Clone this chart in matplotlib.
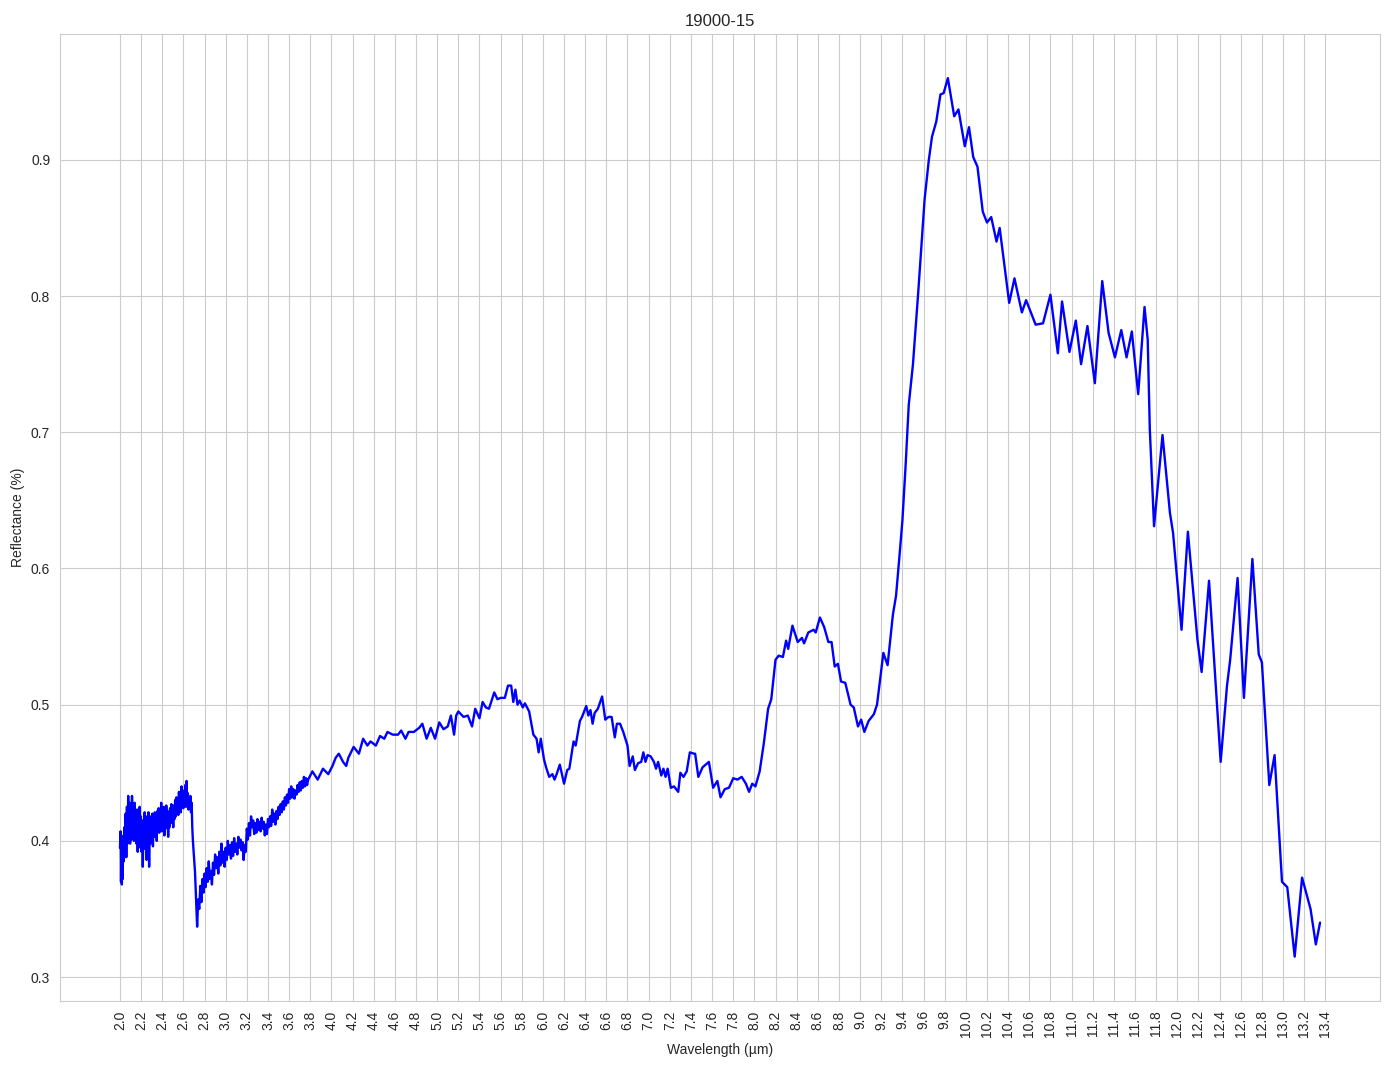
import matplotlib
matplotlib.use('Agg')
import matplotlib.pyplot as plt
import numpy as np
import seaborn as sns

# spectrum (wavelength in um, reflectance)
# noisy start, 2.0 - 2.7 um
wl_start = [2.000, 2.006, 2.010, 2.014, 2.018, 2.022, 2.026, 2.030, 2.036, 2.042, 2.048, 2.054,
            2.060, 2.066, 2.072, 2.078, 2.084, 2.090, 2.096, 2.102, 2.108, 2.114, 2.120, 2.126,
            2.132, 2.138, 2.144, 2.150, 2.156, 2.162, 2.168, 2.174, 2.180, 2.186, 2.192, 2.198,
            2.204, 2.210, 2.216, 2.222, 2.228, 2.234, 2.240, 2.246, 2.252, 2.258, 2.264, 2.270,
            2.276, 2.282, 2.288, 2.294, 2.300, 2.306, 2.312, 2.318, 2.324, 2.330, 2.336, 2.342,
            2.348, 2.354, 2.360, 2.366, 2.372, 2.378, 2.384, 2.390, 2.396, 2.402, 2.408, 2.414,
            2.420, 2.426, 2.432, 2.438, 2.444, 2.450, 2.456, 2.462, 2.468, 2.474, 2.480, 2.486,
            2.492, 2.498, 2.504, 2.510, 2.516, 2.522, 2.528, 2.534, 2.540, 2.546, 2.552, 2.558,
            2.564, 2.570, 2.576, 2.582, 2.588, 2.594, 2.600, 2.606, 2.612, 2.618, 2.624, 2.630,
            2.636, 2.642, 2.648, 2.654, 2.660, 2.666, 2.672, 2.678, 2.684, 2.690, 2.710, 2.730]
r_start = [0.395, 0.407, 0.370, 0.404, 0.368, 0.399, 0.372, 0.401, 0.385, 0.410, 0.395, 0.420,
           0.388, 0.425, 0.398, 0.433, 0.402, 0.428, 0.398, 0.420, 0.401, 0.433, 0.405, 0.426,
           0.400, 0.428, 0.403, 0.420, 0.398, 0.423, 0.392, 0.418, 0.400, 0.425, 0.395, 0.418,
           0.392, 0.415, 0.381, 0.410, 0.397, 0.421, 0.394, 0.418, 0.386, 0.412, 0.401, 0.421,
           0.381, 0.414, 0.398, 0.418, 0.402, 0.420, 0.396, 0.417, 0.403, 0.421, 0.405, 0.419,
           0.400, 0.422, 0.408, 0.424, 0.406, 0.421, 0.410, 0.428, 0.407, 0.423, 0.411, 0.425,
           0.404, 0.420, 0.409, 0.426, 0.412, 0.422, 0.403, 0.418, 0.410, 0.424, 0.413, 0.427,
           0.415, 0.421, 0.410, 0.426, 0.416, 0.430, 0.418, 0.432, 0.420, 0.428, 0.419, 0.436,
           0.422, 0.431, 0.421, 0.440, 0.425, 0.433, 0.424, 0.437, 0.427, 0.441, 0.425, 0.444,
           0.426, 0.435, 0.423, 0.432, 0.425, 0.433, 0.421, 0.428, 0.410, 0.400, 0.377, 0.337]

# rising noisy part, 2.74 - 3.77 um
wl_rise = [2.74, 2.75, 2.76, 2.77, 2.78, 2.79, 2.80, 2.81, 2.82, 2.83, 2.84, 2.85,
           2.86, 2.87, 2.88, 2.89, 2.90, 2.91, 2.92, 2.93, 2.94, 2.95, 2.96, 2.97,
           2.98, 2.99, 3.00, 3.01, 3.02, 3.03, 3.04, 3.05, 3.06, 3.07, 3.08, 3.09,
           3.10, 3.11, 3.12, 3.13, 3.14, 3.15, 3.16, 3.17, 3.18, 3.19, 3.20, 3.21,
           3.22, 3.23, 3.24, 3.25, 3.26, 3.27, 3.28, 3.29, 3.30, 3.31, 3.32, 3.33,
           3.34, 3.35, 3.36, 3.37, 3.38, 3.39, 3.40, 3.41, 3.42, 3.43, 3.44, 3.45,
           3.46, 3.47, 3.48, 3.49, 3.50, 3.51, 3.52, 3.53, 3.54, 3.55, 3.56, 3.57,
           3.58, 3.59, 3.60, 3.61, 3.62, 3.63, 3.64, 3.65, 3.66, 3.67, 3.68, 3.69,
           3.70, 3.71, 3.72, 3.73, 3.74, 3.75, 3.76, 3.77]
r_rise = [0.357, 0.350, 0.367, 0.355, 0.372, 0.362, 0.376, 0.366, 0.380, 0.370, 0.385, 0.372,
          0.378, 0.368, 0.384, 0.375, 0.390, 0.380, 0.388, 0.376, 0.392, 0.382, 0.398, 0.384,
          0.392, 0.381, 0.395, 0.386, 0.400, 0.390, 0.397, 0.387, 0.399, 0.389, 0.402, 0.392,
          0.398, 0.390, 0.403, 0.395, 0.401, 0.393, 0.399, 0.386, 0.397, 0.392, 0.409, 0.401,
          0.413, 0.404, 0.418, 0.410, 0.415, 0.405, 0.413, 0.406, 0.416, 0.408, 0.414, 0.407,
          0.417, 0.409, 0.414, 0.404, 0.412, 0.405, 0.416, 0.410, 0.418, 0.411, 0.423, 0.414,
          0.420, 0.412, 0.422, 0.416, 0.425, 0.419, 0.427, 0.421, 0.429, 0.423, 0.432, 0.426,
          0.434, 0.428, 0.438, 0.431, 0.440, 0.432, 0.438, 0.431, 0.437, 0.434, 0.441, 0.436,
          0.443, 0.437, 0.444, 0.439, 0.447, 0.440, 0.446, 0.441]

# plateau and dip, 3.78 - 8.01 um
wl_mid = [3.78, 3.82, 3.87, 3.92, 3.97, 4.01, 4.04, 4.07, 4.11, 4.14, 4.16, 4.21,
          4.26, 4.30, 4.34, 4.37, 4.42, 4.46, 4.50, 4.53, 4.58, 4.63, 4.66, 4.70,
          4.73, 4.78, 4.83, 4.86, 4.90, 4.94, 4.98, 5.02, 5.06, 5.10, 5.13, 5.16,
          5.18, 5.20, 5.25, 5.29, 5.33, 5.36, 5.40, 5.43, 5.46, 5.49, 5.54, 5.57,
          5.60, 5.64, 5.67, 5.70, 5.72, 5.74, 5.76, 5.78, 5.81, 5.83, 5.87, 5.91,
          5.94, 5.96, 5.98, 6.01, 6.03, 6.06, 6.09, 6.11, 6.13, 6.16, 6.20, 6.23,
          6.25, 6.29, 6.31, 6.35, 6.37, 6.41, 6.43, 6.45, 6.47, 6.49, 6.52, 6.56,
          6.59, 6.62, 6.65, 6.68, 6.70, 6.73, 6.76, 6.80, 6.82, 6.85, 6.87, 6.90,
          6.93, 6.95, 6.97, 6.99, 7.02, 7.05, 7.07, 7.09, 7.12, 7.14, 7.16, 7.18,
          7.21, 7.24, 7.28, 7.30, 7.33, 7.36, 7.39, 7.43, 7.44, 7.47, 7.51, 7.57,
          7.61, 7.65, 7.68, 7.72, 7.76, 7.80, 7.84, 7.88, 7.92, 7.95, 7.98, 8.01]
r_mid = [0.445, 0.451, 0.445, 0.453, 0.449, 0.455, 0.461, 0.464, 0.458, 0.455, 0.461, 0.469,
         0.464, 0.475, 0.470, 0.473, 0.470, 0.477, 0.475, 0.480, 0.478, 0.478, 0.481, 0.475,
         0.480, 0.480, 0.483, 0.486, 0.475, 0.483, 0.475, 0.487, 0.482, 0.484, 0.492, 0.478,
         0.492, 0.495, 0.491, 0.492, 0.484, 0.497, 0.490, 0.502, 0.498, 0.497, 0.509, 0.504,
         0.505, 0.505, 0.514, 0.514, 0.502, 0.511, 0.500, 0.503, 0.498, 0.501, 0.495, 0.478,
         0.475, 0.465, 0.475, 0.460, 0.454, 0.447, 0.449, 0.445, 0.449, 0.456, 0.442, 0.452,
         0.453, 0.473, 0.470, 0.488, 0.491, 0.499, 0.492, 0.496, 0.486, 0.494, 0.497, 0.506,
         0.489, 0.491, 0.491, 0.476, 0.486, 0.486, 0.480, 0.470, 0.455, 0.462, 0.452, 0.457,
         0.458, 0.465, 0.458, 0.463, 0.462, 0.458, 0.453, 0.458, 0.448, 0.453, 0.447, 0.453,
         0.439, 0.440, 0.436, 0.450, 0.447, 0.451, 0.465, 0.464, 0.464, 0.447, 0.454, 0.458,
         0.439, 0.444, 0.432, 0.438, 0.439, 0.446, 0.445, 0.447, 0.442, 0.436, 0.442, 0.440]

# main band and fall-off, 8.05 - 13.35 um
wl_peak = [8.05, 8.09, 8.13, 8.16, 8.20, 8.23, 8.27, 8.30, 8.32, 8.36, 8.41, 8.45,
           8.47, 8.51, 8.56, 8.58, 8.62, 8.66, 8.70, 8.73, 8.76, 8.79, 8.82, 8.86,
           8.91, 8.94, 8.98, 9.01, 9.04, 9.08, 9.13, 9.16, 9.22, 9.26, 9.31, 9.34,
           9.37, 9.40, 9.43, 9.46, 9.50, 9.55, 9.61, 9.65, 9.68, 9.72, 9.76, 9.79,
           9.83, 9.89, 9.93, 9.99, 10.03, 10.07, 10.11, 10.16, 10.20, 10.24, 10.29, 10.32,
           10.41, 10.46, 10.53, 10.57, 10.66, 10.73, 10.80, 10.87, 10.91, 10.98, 11.04, 11.09,
           11.15, 11.22, 11.29, 11.35, 11.41, 11.47, 11.52, 11.57, 11.63, 11.69, 11.72, 11.74,
           11.78, 11.86, 11.93, 11.96, 12.04, 12.10, 12.19, 12.23, 12.30, 12.41, 12.47, 12.50,
           12.57, 12.63, 12.71, 12.77, 12.80, 12.87, 12.92, 12.99, 13.04, 13.11, 13.18, 13.26,
           13.31, 13.35]
r_peak = [0.451, 0.472, 0.497, 0.504, 0.533, 0.536, 0.535, 0.547, 0.541, 0.558, 0.546, 0.549,
          0.545, 0.553, 0.555, 0.553, 0.564, 0.557, 0.546, 0.546, 0.528, 0.530, 0.517, 0.516,
          0.500, 0.498, 0.484, 0.489, 0.480, 0.488, 0.493, 0.500, 0.538, 0.529, 0.566, 0.580,
          0.607, 0.635, 0.675, 0.720, 0.750, 0.803, 0.871, 0.900, 0.917, 0.928, 0.948, 0.949,
          0.960, 0.932, 0.937, 0.910, 0.924, 0.902, 0.895, 0.862, 0.854, 0.858, 0.840, 0.850,
          0.795, 0.813, 0.788, 0.797, 0.779, 0.780, 0.801, 0.758, 0.796, 0.759, 0.782, 0.750,
          0.778, 0.736, 0.811, 0.773, 0.755, 0.775, 0.755, 0.774, 0.728, 0.792, 0.768, 0.702,
          0.631, 0.698, 0.641, 0.626, 0.555, 0.627, 0.548, 0.524, 0.591, 0.458, 0.514, 0.533,
          0.593, 0.505, 0.607, 0.537, 0.531, 0.441, 0.463, 0.370, 0.366, 0.315, 0.373, 0.350,
          0.324, 0.340]

wavelength = wl_start + wl_rise + wl_mid + wl_peak
reflectance = r_start + r_rise + r_mid + r_peak

sns.set_style('whitegrid')
plt.rcParams['font.family'] = ['Liberation Sans', 'DejaVu Sans']

fig, ax = plt.subplots(figsize=(13.94, 10.69), dpi=100)
ax.plot(wavelength, reflectance, color='blue', linewidth=1.7)

ticks = np.round(np.arange(2.0, 13.41, 0.2), 1)
ax.set_xticks(ticks)
ax.set_xticklabels([f'{t:.1f}' for t in ticks], rotation=90)

ax.set_title('19000-15')
ax.set_xlabel('Wavelength (µm)')
ax.set_ylabel('Reflectance (%)')

plt.subplots_adjust(left=0.043, right=0.990, top=0.968, bottom=0.064)
plt.savefig('out.png')
